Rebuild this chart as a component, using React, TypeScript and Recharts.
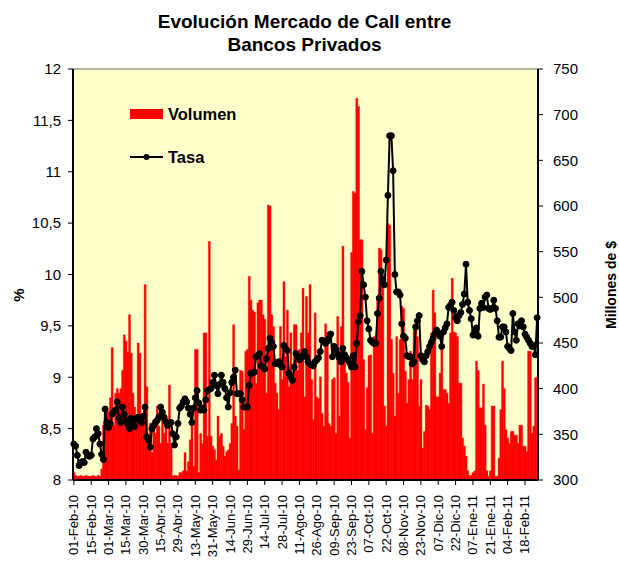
import React from "react";
import {
  ComposedChart,
  Bar,
  Line,
  XAxis,
  YAxis,
  CartesianGrid,
  ReferenceLine,
} from "recharts";

// Etiquetas del eje X (una cada 10 días hábiles)
const etiquetas = [
  "01-Feb-10", "15-Feb-10", "01-Mar-10", "15-Mar-10", "30-Mar-10", "15-Abr-10",
  "29-Abr-10", "13-May-10", "31-May-10", "14-Jun-10", "29-Jun-10", "14-Jul-10",
  "28-Jul-10", "11-Ago-10", "26-Ago-10", "09-Sep-10", "23-Sep-10", "07-Oct-10",
  "22-Oct-10", "08-Nov-10", "23-Nov-10", "07-Dic-10", "22-Dic-10", "07-Ene-11",
  "21-Ene-11", "04-Feb-11", "18-Feb-11",
];

// Tasa (%), eje izquierdo
const tasa = [
  8.35, 8.33, 8.24, 8.14, 8.17, 8.18, 8.17, 8.27, 8.24, 8.23,
  8.24, 8.40, 8.42, 8.50, 8.45, 8.35, 8.25, 8.20, 8.69, 8.56,
  8.51, 8.55, 8.64, 8.66, 8.68, 8.76, 8.60, 8.56, 8.71, 8.64,
  8.58, 8.54, 8.50, 8.60, 8.55, 8.52, 8.60, 8.61, 8.58, 8.56,
  8.62, 8.71, 8.42, 8.39, 8.32, 8.50, 8.53, 8.56, 8.58, 8.61,
  8.71, 8.66, 8.61, 8.57, 8.53, 8.55, 8.56, 8.45, 8.34, 8.42,
  8.55, 8.70, 8.72, 8.76, 8.79, 8.76, 8.70, 8.64, 8.56, 8.70,
  8.80, 8.87, 8.75, 8.68, 8.70, 8.68, 8.78, 8.87, 8.88, 8.89,
  8.95, 9.02, 8.92, 8.84, 8.93, 9.02, 8.95, 8.89, 8.80, 8.71,
  8.85, 8.95, 9.00, 9.07, 8.84, 8.84, 8.84, 8.78, 8.71, 8.71,
  8.71, 8.92, 9.04, 9.04, 9.05, 9.20, 9.21, 9.23, 9.11, 9.10,
  9.08, 9.18, 9.28, 9.38, 9.34, 9.30, 9.13, 9.14, 9.15, 9.12,
  9.10, 9.31, 9.28, 9.26, 9.04, 9.00, 8.97, 9.10, 9.23, 9.20,
  9.17, 9.19, 9.21, 9.25, 9.20, 9.15, 9.13, 9.12, 9.11, 9.15,
  9.17, 9.19, 9.25, 9.36, 9.35, 9.33, 9.35, 9.38, 9.42, 9.20,
  9.30, 9.27, 9.23, 9.19, 9.15, 9.28, 9.22, 9.19, 9.17, 9.14,
  9.10, 9.21, 9.10, 9.33, 9.54, 9.60, 10.03, 9.90, 9.78, 9.55,
  9.47, 9.36, 9.34, 9.33, 9.33, 9.62, 9.77, 10.03, 9.95, 9.90,
  10.14, 10.77, 11.35, 11.35, 11.01, 10.0, 9.83, 9.83, 9.80, 9.52,
  9.40, 9.38, 9.21, 9.20, 9.20, 9.13, 9.15, 9.49, 9.55, 9.60,
  9.21, 9.17, 9.15, 9.21, 9.25, 9.30, 9.34, 9.38, 9.42, 9.46,
  9.43, 9.40, 9.30, 9.44, 9.48, 9.52, 9.68, 9.70, 9.73, 9.65,
  9.58, 9.55, 9.60, 9.63, 9.71, 9.81, 10.10, 9.73, 9.65, 9.57,
  9.41, 9.44, 9.48, 9.40, 9.67, 9.72, 9.68, 9.78, 9.80, 9.67,
  9.66, 9.67, 9.75, 9.67, 9.55, 9.39, 9.39, 9.49, 9.49, 9.44,
  9.30, 9.28, 9.26, 9.62, 9.44, 9.36, 9.52, 9.50, 9.55, 9.49,
  9.42, 9.39, 9.36, 9.33, 9.30, 9.31, 9.22, 9.58,
];

// Volumen (millones de $), eje derecho
const volumen = [
  308, 305, 304, 304, 305, 304, 304, 305, 304, 304,
  304, 305, 304, 304, 305, 304, 312, 360, 362, 380,
  375, 390, 445, 360, 395, 400, 395, 400, 420, 459,
  452, 440, 481, 439, 395, 380, 366, 450, 439, 362,
  373, 514, 402, 340, 362, 330, 366, 351, 381, 359,
  340, 377, 351, 359, 340, 404, 340, 304, 305, 305,
  304, 308, 308, 310, 330, 310, 320, 344, 368, 315,
  443, 443, 308, 351, 340, 461, 461, 348, 561, 348,
  337, 333, 322, 370, 348, 351, 337, 326, 331, 333,
  340, 362, 470, 370, 359, 311, 420, 419, 355, 441,
  443, 523, 497, 486, 484, 406, 494, 497, 497, 481,
  476, 395, 601, 600, 481, 468, 406, 395, 377, 468,
  410, 517, 435, 486, 402, 461, 415, 470, 470, 420,
  443, 461, 510, 391, 501, 461, 514, 410, 366, 483,
  391, 389, 413, 373, 359, 471, 462, 362, 359, 410,
  412, 351, 479, 370, 468, 556, 432, 417, 407, 346,
  549, 616, 614, 718, 709, 563, 563, 432, 355, 401,
  436, 437, 351, 457, 446, 497, 554, 552, 525, 381,
  359, 581, 579, 454, 417, 370, 457, 395, 454, 490,
  488, 419, 384, 410, 441, 410, 465, 466, 457, 381,
  410, 335, 353, 382, 381, 377, 461, 508, 483, 391,
  391, 417, 448, 399, 399, 395, 384, 461, 521, 462,
  461, 457, 406, 406, 346, 337, 326, 310, 305, 305,
  308, 310, 430, 420, 379, 379, 405, 360, 310, 304,
  310, 381, 381, 304, 304, 324, 377, 430, 400, 355,
  346, 340, 353, 353, 349, 349, 340, 360, 360, 337,
  337, 331, 441, 441, 351, 359, 412, 412,
];

const ticksTasa = [8, 8.5, 9, 9.5, 10, 10.5, 11, 11.5, 12];
const ticksVolumen = [300, 350, 400, 450, 500, 550, 600, 650, 700, 750];

const data = volumen.map((v, i) => ({ idx: i, volumen: v, tasa: tasa[i] }));

const FONT = "'Liberation Sans', Arial, sans-serif";

const XTick = (props: any) => {
  const { x, y, payload } = props;
  const label = etiquetas[Math.round(payload.value / 10)] ?? "";
  return (
    <text
      x={x}
      y={y}
      transform={`rotate(-90 ${x} ${y})`}
      textAnchor="end"
      dominantBaseline="central"
      fontSize={13}
      fontFamily={FONT}
      fill="#000"
    >
      {label}
    </text>
  );
};

export default function App() {
  return (
    <div
      style={{
        position: "absolute",
        left: 0,
        top: 0,
        width: 619,
        height: 563,
        background: "#fff",
        fontFamily: FONT,
      }}
    >
      <div
        style={{
          position: "absolute",
          left: 0,
          top: 10,
          width: 609,
          textAlign: "center",
          fontWeight: "bold",
          fontSize: 19,
          lineHeight: "23px",
          color: "#000",
        }}
      >
        Evolución Mercado de Call entre
        <br />
        Bancos Privados
      </div>

      <ComposedChart
        width={619}
        height={563}
        data={data}
        margin={{ top: 69, right: 0, bottom: 0, left: 0 }}
        barCategoryGap={0}
        barGap={0}
      >
        <CartesianGrid
          yAxisId="left"
          horizontal={false}
          vertical={false}
          fill="#FFFFCC"
          stroke="none"
        />
        <XAxis
          dataKey="idx"
          interval={9}
          height={83}
          tickSize={5}
          tickMargin={10}
          axisLine={{ stroke: "#000", strokeWidth: 2 }}
          tickLine={{ stroke: "#000" }}
          tick={<XTick />}
        />
        <YAxis
          yAxisId="left"
          width={73}
          domain={[8, 12]}
          ticks={ticksTasa}
          allowDataOverflow
          tickSize={5}
          tickMargin={7}
          axisLine={{ stroke: "#000", strokeWidth: 2 }}
          tickLine={{ stroke: "#000" }}
          tick={{ fill: "#000", fontSize: 15, fontFamily: FONT }}
          tickFormatter={(v: number) => String(v).replace(".", ",")}
        />
        <YAxis
          yAxisId="right"
          orientation="right"
          width={81}
          domain={[300, 750]}
          ticks={ticksVolumen}
          allowDataOverflow
          tickSize={5}
          tickMargin={10}
          axisLine={{ stroke: "#000", strokeWidth: 2 }}
          tickLine={{ stroke: "#000" }}
          tick={{ fill: "#000", fontSize: 15, fontFamily: FONT }}
        />
        <ReferenceLine yAxisId="left" y={12} stroke="#9a9a88" strokeWidth={1.5} />
        <Bar
          yAxisId="right"
          dataKey="volumen"
          fill="#FF0000"
          stroke="#FF0000"
          strokeWidth={0.4}
          isAnimationActive={false}
        />
        <Line
          yAxisId="left"
          type="linear"
          dataKey="tasa"
          stroke="#000"
          strokeWidth={2}
          dot={{ r: 3, fill: "#000", stroke: "#000", strokeWidth: 1 }}
          isAnimationActive={false}
        />
      </ComposedChart>

      {/* Leyenda */}
      <div
        style={{
          position: "absolute",
          left: 130,
          top: 103,
          fontWeight: "bold",
          fontSize: 16.5,
          color: "#000",
        }}
      >
        <div style={{ display: "flex", alignItems: "center", height: 22 }}>
          <svg width={34} height={12} style={{ marginRight: 4 }}>
            <rect x={0} y={1} width={33} height={10} fill="#FF0000" />
          </svg>
          Volumen
        </div>
        <div
          style={{ display: "flex", alignItems: "center", height: 22, marginTop: 21 }}
        >
          <svg width={34} height={12} style={{ marginRight: 4 }}>
            <line x1={0} y1={6} x2={33} y2={6} stroke="#000" strokeWidth={2} />
            <circle cx={16.5} cy={6} r={3} fill="#000" />
          </svg>
          Tasa
        </div>
      </div>

      {/* Títulos de ejes */}
      <div
        style={{
          position: "absolute",
          left: 18,
          top: 295,
          transform: "translate(-50%, -50%) rotate(-90deg)",
          fontWeight: "bold",
          fontSize: 15,
          whiteSpace: "nowrap",
        }}
      >
        %
      </div>
      <div
        style={{
          position: "absolute",
          left: 611,
          top: 285,
          transform: "translate(-50%, -50%) rotate(-90deg)",
          fontWeight: "bold",
          fontSize: 14,
          whiteSpace: "nowrap",
        }}
      >
        Millones de $
      </div>
    </div>
  );
}
